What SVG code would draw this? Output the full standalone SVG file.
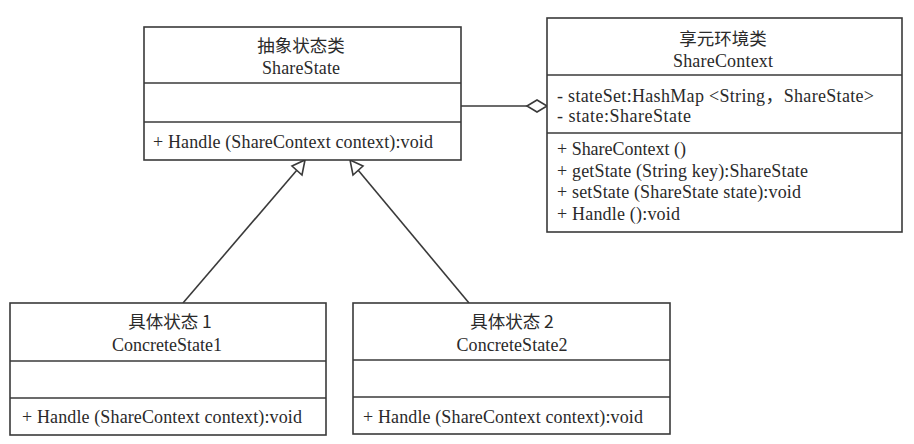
<svg xmlns="http://www.w3.org/2000/svg" width="914" height="444" viewBox="0 0 914 444">
<defs>
<style>
.box{fill:#fff;stroke:#3a3a3a;stroke-width:1.6}
.div{stroke:#3a3a3a;stroke-width:1.6}
.t{font-family:"Liberation Serif","Noto Sans CJK SC",serif;font-size:18px;fill:#2a2a2a}
.c{text-anchor:middle}
.cn{font-family:"Noto Sans CJK SC","Liberation Serif",sans-serif;font-size:17.5px;fill:#2a2a2a;text-anchor:middle}
.ln{stroke:#3a3a3a;stroke-width:1.6;fill:none}
.tri{fill:#fff;stroke:#3a3a3a;stroke-width:1.6}
</style>
</defs>
<rect width="914" height="444" fill="#fff"/>
<g id="connectors">
<line class="ln" x1="183" y1="303" x2="297" y2="170"/>
<polygon class="tri" points="305,160 302,175 292,166"/>
<line class="ln" x1="469" y1="303" x2="358" y2="170"/>
<polygon class="tri" points="350,160 363,166 353,175"/>
<line class="ln" x1="461" y1="106" x2="527" y2="106"/>
<polygon class="tri" points="527,106 537,100 547,106 537,112"/>
</g>
<g id="ShareState">
<rect class="box" x="144" y="27" width="317" height="133"/>
<line class="div" x1="144" y1="83" x2="461" y2="83"/>
<line class="div" x1="144" y1="122" x2="461" y2="122"/>
<text class="cn" x="301" y="52">抽象状态类</text>
<text class="t c" x="301" y="74" textLength="78">ShareState</text>
<text class="t" x="153" y="148" textLength="280">+ Handle (ShareContext context):void</text>
</g>
<g id="ShareContext">
<rect class="box" x="547" y="18" width="355" height="214"/>
<line class="div" x1="547" y1="75" x2="902" y2="75"/>
<line class="div" x1="547" y1="133" x2="902" y2="133"/>
<text class="cn" x="723" y="45">享元环境类</text>
<text class="t c" x="723" y="67" textLength="100">ShareContext</text>
<text class="t" x="557" y="102" textLength="317">- stateSet:HashMap &lt;String，ShareState&gt;</text>
<text class="t" x="557" y="122" textLength="134">- state:ShareState</text>
<text class="t" x="557" y="155" textLength="129">+ ShareContext ()</text>
<text class="t" x="557" y="176.5" textLength="251">+ getState (String key):ShareState</text>
<text class="t" x="557" y="198" textLength="244">+ setState (ShareState state):void</text>
<text class="t" x="557" y="219.5" textLength="123">+ Handle ():void</text>
</g>
<g id="ConcreteState1">
<rect class="box" x="10" y="303" width="316" height="132"/>
<line class="div" x1="10" y1="361" x2="326" y2="361"/>
<line class="div" x1="10" y1="398" x2="326" y2="398"/>
<text class="cn" x="170" y="328">具体状态 1</text>
<text class="t c" x="167" y="351" textLength="110">ConcreteState1</text>
<text class="t" x="22" y="423" textLength="280">+ Handle (ShareContext context):void</text>
</g>
<g id="ConcreteState2">
<rect class="box" x="353" y="303" width="317" height="131"/>
<line class="div" x1="353" y1="360" x2="670" y2="360"/>
<line class="div" x1="353" y1="397" x2="670" y2="397"/>
<text class="cn" x="512" y="328">具体状态 2</text>
<text class="t c" x="512" y="351" textLength="111">ConcreteState2</text>
<text class="t" x="363" y="423" textLength="280">+ Handle (ShareContext context):void</text>
</g>
</svg>
